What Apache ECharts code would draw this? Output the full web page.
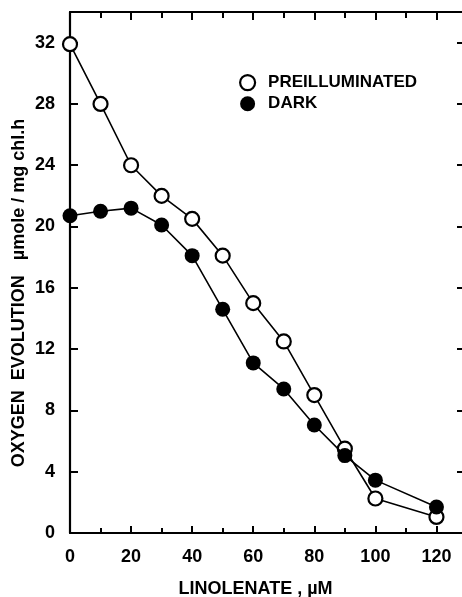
<!DOCTYPE html>
<html>
<head>
<meta charset="utf-8">
<script src="https://cdn.jsdelivr.net/npm/echarts@6/dist/echarts.min.js"></script>
<style>
  html, body { margin: 0; padding: 0; background: #fff; }
  #chart { width: 462px; height: 597px; }
</style>
</head>
<body>
<div id="chart"></div>
<script>
// Linolenate concentration (µM)
const linolenate = [0, 10, 20, 30, 40, 50, 60, 70, 80, 90, 100, 120];
// Oxygen evolution, µmole / mg chl.h
const preilluminated = [31.9, 28.0, 24.0, 22.0, 20.5, 18.1, 15.0, 12.5, 9.0, 5.5, 2.25, 1.05];
const dark = [20.7, 21.0, 21.2, 20.1, 18.1, 14.6, 11.1, 9.4, 7.05, 5.05, 3.45, 1.7];
const xTickLabels = [0, 20, 40, 60, 80, 100, 120];
const yTickLabels = [0, 4, 8, 12, 16, 20, 24, 28, 32];

const FONT = '"Liberation Sans", Arial, sans-serif';
const pairs = (ys) => linolenate.map((x, i) => [x, ys[i]]);

const chart = echarts.init(document.getElementById('chart'), null, { renderer: 'canvas' });

const axisLineStyle = { color: '#000', width: 2.2 };
const tickLabel = { color: '#000', fontFamily: FONT, fontWeight: 'bold', fontSize: 18 };

chart.setOption({
  animation: false,
  backgroundColor: '#fff',
  grid: { left: 70, top: 12, right: -5, bottom: 64, containLabel: false, outerBoundsMode: 'none' },
  legend: {
    orient: 'vertical',
    left: 234,
    top: 69,
    itemGap: 4,
    itemWidth: 15,
    itemHeight: 15,
    selectedMode: false,
    textStyle: { color: '#000', fontFamily: FONT, fontWeight: 'bold', fontSize: 17, padding: [0, 0, 0, 8] },
    data: [
      { name: 'PREILLUMINATED', icon: 'circle', itemStyle: { color: '#fff', borderColor: '#000', borderWidth: 2.2 } },
      { name: 'DARK', icon: 'circle', itemStyle: { color: '#000', borderColor: '#000', borderWidth: 0 } }
    ]
  },
  xAxis: [
    {
      type: 'value', position: 'bottom', min: 0, max: 130, interval: 20,
      axisLine: { show: true, onZero: false, lineStyle: axisLineStyle },
      axisTick: { show: true, inside: true, length: 7, lineStyle: { color: '#000', width: 2 } },
      minorTick: { show: true, splitNumber: 2, length: 5, lineStyle: { color: '#000', width: 2 } },
      splitLine: { show: false },
      axisLabel: Object.assign({ margin: 15, formatter: (v) => xTickLabels.includes(v) ? String(v) : '' }, tickLabel),
      name: 'LINOLENATE , µM',
      nameLocation: 'middle',
      nameGap: 47,
      nameTextStyle: { color: '#000', fontFamily: FONT, fontWeight: 'bold', fontSize: 18, padding: [0, 26, 0, 0] }
    },
    {
      type: 'value', position: 'top', min: 0, max: 130, interval: 20,
      axisLine: { show: true, onZero: false, lineStyle: axisLineStyle },
      axisTick: { show: true, inside: true, length: 8, lineStyle: { color: '#000', width: 2 } },
      minorTick: { show: true, splitNumber: 2, length: 6, lineStyle: { color: '#000', width: 2 } },
      splitLine: { show: false },
      axisLabel: { show: false }
    }
  ],
  yAxis: [
    {
      type: 'value', position: 'left', min: 0, max: 34, interval: 4,
      axisLine: { show: true, onZero: false, lineStyle: axisLineStyle },
      axisTick: { show: true, inside: true, length: 8, lineStyle: { color: '#000', width: 2 } },
      splitLine: { show: false },
      axisLabel: Object.assign({ margin: 15, formatter: (v) => yTickLabels.includes(v) ? String(v) : '' }, tickLabel)
    },
    {
      type: 'value', position: 'right', min: 0, max: 34, interval: 4,
      axisLine: { show: true, onZero: false, lineStyle: axisLineStyle },
      axisTick: { show: true, inside: true, length: 10, lineStyle: { color: '#000', width: 2 } },
      splitLine: { show: false },
      axisLabel: { show: false }
    }
  ],
  graphic: [
    {
      type: 'text',
      x: 19, y: 293,
      rotation: Math.PI / 2,
      style: {
        text: 'OXYGEN  EVOLUTION   µmole / mg chl.h',
        fill: '#000',
        font: 'bold 18px ' + FONT,
        textAlign: 'center',
        textVerticalAlign: 'middle'
      }
    }
  ],
  series: [
    {
      name: 'PREILLUMINATED',
      type: 'line',
      data: pairs(preilluminated),
      symbol: 'circle',
      symbolSize: 14,
      itemStyle: { color: '#fff', borderColor: '#000', borderWidth: 2.2 },
      lineStyle: { color: '#000', width: 1.6 },
      z: 2
    },
    {
      name: 'DARK',
      type: 'line',
      data: pairs(dark),
      symbol: 'circle',
      symbolSize: 15,
      itemStyle: { color: '#000', borderColor: '#000', borderWidth: 0 },
      lineStyle: { color: '#000', width: 1.6 },
      z: 3
    }
  ]
});
</script>
</body>
</html>
